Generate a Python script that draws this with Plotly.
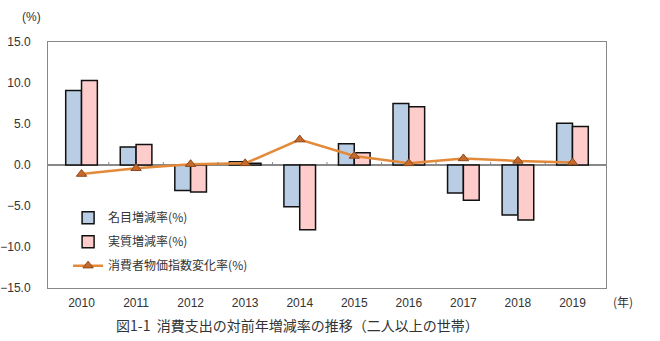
import plotly.graph_objects as go

years = ["2010", "2011", "2012", "2013", "2014", "2015", "2016", "2017", "2018", "2019"]
nominal = [9.1, 2.2, -3.1, 0.4, -5.1, 2.6, 7.5, -3.4, -6.1, 5.1]
real = [10.3, 2.5, -3.3, 0.2, -7.9, 1.5, 7.1, -4.3, -6.7, 4.7]
cpi = [-1.1, -0.4, 0.1, 0.2, 3.1, 1.1, 0.2, 0.8, 0.5, 0.3]
yticks = [-15, -10, -5, 0, 5, 10, 15]

FONT = "Liberation Sans, Noto Sans CJK JP, sans-serif"
JFONT = "Noto Sans CJK JP, sans-serif"

fig = go.Figure()
fig.add_trace(go.Bar(x=years, y=nominal, name="名目増減率(%)",
                     marker=dict(color="#b9cde5", line=dict(color="#111111", width=1.5)),
                     legendgroup="a"))
fig.add_trace(go.Bar(x=years, y=real, name="実質増減率(%)",
                     marker=dict(color="#ffcccc", line=dict(color="#111111", width=1.5)),
                     legendgroup="b"))
fig.add_trace(go.Scatter(x=years, y=cpi, name="消費者物価指数変化率(%)", mode="lines+markers",
                         line=dict(color="#e3893a", width=2.5),
                         marker=dict(symbol="triangle-up", size=9, color="#c8692c",
                                     line=dict(color="#8a4a1e", width=1)),
                         legendgroup="c"))

# small ticks on the zero line at category boundaries
shapes = []
for i in range(1, len(years)):
    shapes.append(dict(type="line", xref="x", yref="y", ysizemode="pixel", yanchor=0,
                       x0=i - 0.5, x1=i - 0.5, y0=0, y1=3,
                       line=dict(color="#888888", width=1)))

fig.update_layout(
    width=660, height=341,
    margin=dict(l=48, r=54, t=42, b=53),
    paper_bgcolor="white", plot_bgcolor="white",
    barmode="group", bargap=0.42, bargroupgap=0,
    font=dict(family=FONT, size=12, color="#333333"),
    shapes=shapes,
    showlegend=True,
    legend=dict(x=0.036, y=0.345, xanchor="left", yanchor="top",
                bgcolor="rgba(0,0,0,0)", font=dict(family=JFONT, size=12, color="#333333"),
                tracegroupgap=5, traceorder="grouped", itemwidth=30),
    xaxis=dict(type="category", showgrid=False, showline=True, linecolor="#888888",
               linewidth=1, mirror=True, ticks="", ticklabelstandoff=4, automargin=False,
               tickfont=dict(family=FONT, size=12, color="#333333")),
    yaxis=dict(range=[-15, 15], tickvals=yticks, tickformat=".1f", showgrid=False,
               showline=True, linecolor="#888888", linewidth=1, mirror=True,
               zeroline=True, zerolinecolor="#888888", zerolinewidth=1.5,
               ticks="", ticklabelstandoff=14, automargin=False,
               tickfont=dict(family=FONT, size=12, color="#333333")),
    annotations=[
        dict(text="(%)", xref="paper", yref="paper", x=(31 - 48) / 558, y=1.1, showarrow=False,
             xanchor="center", yanchor="middle", font=dict(family=FONT, size=12, color="#333333")),
        dict(text="(年)", xref="paper", yref="paper", x=(623 - 48) / 558, y=-0.056,
             showarrow=False, xanchor="center", yanchor="middle",
             font=dict(family=JFONT, size=12, color="#333333")),
        dict(text="図1-1  消費支出の対前年増減率の推移（二人以上の世帯）", xref="paper", yref="paper",
             x=(297 - 48) / 558, y=-(325 - 288) / 246, showarrow=False,
             xanchor="center", yanchor="middle",
             font=dict(family=JFONT, size=14, color="#333333")),
    ],
)

fig.write_html("out.html")
